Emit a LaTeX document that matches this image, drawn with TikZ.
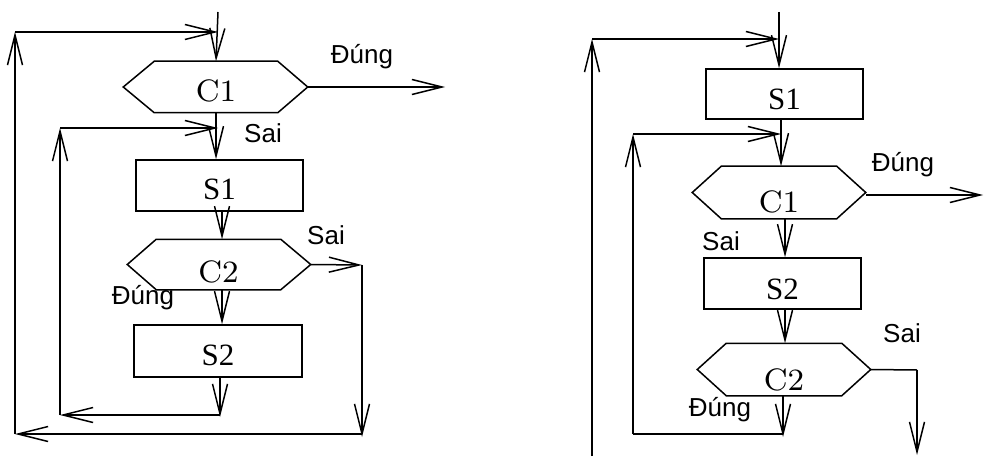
\documentclass[tikz,border=0pt]{standalone}
\usepackage{fontspec}
\usetikzlibrary{arrows.meta,calc}
\newfontfamily\labfont{Liberation Sans}
\newfontfamily\boxfont{Liberation Serif}
\newfontfamily\hexfont{lmroman8-regular.otf}
\begin{document}
\begin{tikzpicture}[x=1pt,y=-1pt,line width=1.5pt,
  arr/.style={-{Straight Barb[length=30pt,width=15pt]}},
  stepbox/.style={draw,rectangle,inner sep=0pt,font=\boxfont\fontsize{31}{31}\selectfont,
    text height=#1,text depth=0pt},
  hexbody/.style={rectangle,inner sep=0pt,font=\hexfont\fontsize{31}{31}\selectfont,
    text height=#1,text depth=0pt},
  lab/.style={font=\labfont\fontsize{26}{26}\selectfont,inner sep=0pt}]
\useasboundingbox (0,0) rectangle (984,457);

% ---------- left flowchart ----------
\node[hexbody=30pt,minimum width=122pt,minimum height=50pt] (lc1) at (216,87) {C1};
\coordinate (lc1w) at ([xshift=-31pt]lc1.west);
\coordinate (lc1e) at ([xshift=30pt]lc1.east);
\draw (lc1.north west) -- (lc1.north east) -- (lc1e) -- (lc1.south east)
  -- (lc1.south west) -- (lc1w) -- cycle;

\node[stepbox=27.6pt,minimum width=167pt,minimum height=51pt] (ls1) at (219.5,185.5) {S1};

\node[hexbody=35pt,minimum width=123pt,minimum height=49pt] (lc2) at (218.5,264.5) {C2};
\coordinate (lc2w) at ([xshift=-29pt]lc2.west);
\coordinate (lc2e) at ([xshift=30pt]lc2.east);
\draw (lc2.north west) -- (lc2.north east) -- (lc2e) -- (lc2.south east)
  -- (lc2.south west) -- (lc2w) -- cycle;

\node[stepbox=28.6pt,minimum width=168pt,minimum height=52pt] (ls2) at (218,351) {S2};

\coordinate (lin) at (218,12);
\coordinate (lj1) at (218,32);
\coordinate (lo1) at (15,32);
\coordinate (lo2) at (15,434);
\coordinate (lj2) at (218,128);
\coordinate (li1) at (60,128);
\coordinate (li2) at (60,415);
\coordinate (ls2e) at (220,417);
\coordinate (ls2c) at (220,415);
\coordinate (lr1) at (362,265);
\coordinate (lr2) at (362,437);
\coordinate (lr3) at (362,434);
\coordinate (lout) at (445,87);

\draw[arr] (lin) -- (lc1.north);
\draw[arr] (lo2) -- (lo1);
\draw[arr] (lo1) -- (lj1);
\draw[arr] (lc1e) -- (lout);
\draw[arr] (lc1.south) -- (lc1.south |- ls1.north);
\draw[arr] (li2) -- (li1);
\draw[arr] (li1) -- (lj2);
\draw[arr] (222,211) -- (lc2.north -| 222,0);
\draw[arr] (222,289) -- (ls2.north -| 222,0);
\draw[arr] (lc2e) -- (lr1);
\draw[arr] (lr1) -- (lr2);
\draw[arr] (lr3) -- (lo2);
\draw[arr] (ls2.south -| ls2e) -- (ls2e);
\draw[arr] (ls2c) -- (li2);

\node[lab] (ld1) at (362,57) {Đúng};
\node[lab] (ls1l) at (263,133) {Sai};
\node[lab] (ls2l) at (326,235) {Sai};
\node[lab] (ld2) at (143,298) {Đúng};

% ---------- right flowchart ----------
\node[stepbox=30.6pt,minimum width=157pt,minimum height=50pt] (rs1) at (784.5,94) {S1};

\node[hexbody=40pt,minimum width=114pt,minimum height=51pt] (rc1) at (779,192.5) {C1};
\coordinate (rc1w) at ([xshift=-29pt]rc1.west);
\coordinate (rc1e) at ([xshift=29pt]rc1.east);
\draw (rc1.north west) -- (rc1.north east) -- (rc1e) -- (rc1.south east)
  -- (rc1.south west) -- (rc1w) -- cycle;

\node[stepbox=31.6pt,minimum width=157pt,minimum height=51pt] (rs2) at (782.5,283.5) {S2};

\node[hexbody=42pt,minimum width=114pt,minimum height=51pt] (rc2) at (784,369.5) {C2};
\coordinate (rc2w) at ([xshift=-29pt]rc2.west);
\coordinate (rc2e) at ([xshift=29pt]rc2.east);
\draw (rc2.north west) -- (rc2.north east) -- (rc2e) -- (rc2.south east)
  -- (rc2.south west) -- (rc2w) -- cycle;

\coordinate (rin) at (779,12);
\coordinate (rj1) at (779,39);
\coordinate (ro1) at (592,39);
\coordinate (ro2) at (592,456);
\coordinate (rj2) at (781,134);
\coordinate (ri1) at (633,134);
\coordinate (ri2) at (633,434);
\coordinate (rc2s) at (783,437);
\coordinate (rc2c) at (783,434);
\coordinate (rr1) at (917,370);
\coordinate (rr2) at (917,455);
\coordinate (rout) at (983,195);

\draw[arr] (rin) -- (rs1.north -| rin);
\draw[arr] (ro2) -- (ro1);
\draw[arr] (ro1) -- (rj1);
\draw[arr] (rs1.south -| rj2) -- (rc1.north -| rj2);
\draw[arr] (ri1) -- (rj2);
\draw[arr] (ri2) -- (ri1);
\draw[arr] (rc1e |- rout) -- (rout);
\draw[arr] (rc1.south -| 785,0) -- (rs2.north -| 785,0);
\draw[arr] (rs2.south -| 785,0) -- (rc2.north -| 785,0);
\draw (rc2e) -- (rr1);
\draw[arr] (rr1) -- (rr2);
\draw[arr] (rc2.south -| rc2s) -- (rc2s);
\draw (rc2c) -- (ri2);

\node[lab] (rd1) at (903,165) {Đúng};
\node[lab] (rs1l) at (721,241) {Sai};
\node[lab] (rs2l) at (902,333) {Sai};
\node[lab] (rd2) at (720,410) {Đúng};
\end{tikzpicture}
\end{document}
